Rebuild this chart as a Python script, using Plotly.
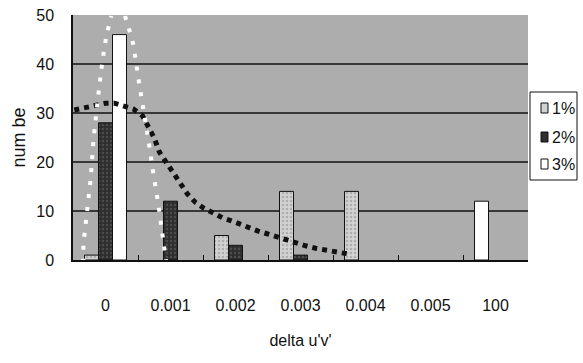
import plotly.graph_objects as go

# ---------------- data ----------------
categories = ["0", "0.001", "0.002", "0.003", "0.004", "0.005", "100"]
series_names = ["1%", "2%", "3%"]
vals_1 = [1, None, 5, 14, 14, None, None]
vals_2 = [28, 12, 3, 1, None, None, None]
vals_3 = [46, None, None, None, None, None, 12]
y_ticks = [0, 10, 20, 30, 40, 50]

# dotted trend curve (x in category-index units)
trend_x = [-0.48, -0.29, -0.15, 0.0, 0.14, 0.29, 0.43, 0.57, 0.66, 0.75, 0.83,
           0.94, 1.03, 1.14, 1.26, 1.38, 1.51, 1.66, 1.80, 1.94, 2.09, 2.23,
           2.35, 2.49, 2.65, 2.78, 2.94, 3.08, 3.23, 3.38, 3.52, 3.66, 3.78]
trend_y = [30.6, 31.2, 31.6, 32.0, 32.0, 31.4, 30.8, 29.4, 27.1, 24.9, 22.0,
           19.8, 17.8, 15.5, 13.5, 11.8, 10.6, 9.6, 8.6, 8.0, 7.1, 6.5,
           5.9, 5.3, 4.7, 4.1, 3.5, 2.9, 2.4, 2.0, 1.6, 1.4, 1.2]

# ---------------- style ----------------
FONT = "Liberation Sans, Arial, sans-serif"
FS = 16
W, H = 583, 363
L, R, T, B = 73, 528, 15, 260          # plot area in pixels
BG = "#adadad"
C1, C2, C3 = "#d2d2d2", "#2e2e2e", "#ffffff"


def px(x):
    return (x - L) / (R - L)


def py(y):
    return (B - y) / (B - T)


fig = go.Figure()

n = len(categories)
bw = 0.2154
off1 = -1.5 * bw
off2 = -0.5 * bw
off3 = [0.5 * bw] * (n - 1) + [-1.5 * bw]

fig.add_trace(go.Bar(x=categories, y=vals_1, name=series_names[0], width=bw, offset=off1,
                     marker=dict(color=C1, line=dict(color="#111", width=1),
                                 pattern=dict(shape=".", fgcolor="#8a8a8a", size=4, solidity=0.3)),
                     showlegend=False))
fig.add_trace(go.Bar(x=categories, y=vals_2, name=series_names[1], width=bw, offset=off2,
                     marker=dict(color=C2, line=dict(color="#111", width=1),
                                 pattern=dict(shape=".", fgcolor="#6a6a6a", size=4, solidity=0.3)),
                     showlegend=False))
fig.add_trace(go.Bar(x=categories, y=vals_3, name=series_names[2], width=bw, offset=off3,
                     marker=dict(color=C3, line=dict(color="#111", width=1)),
                     showlegend=False))

fig.add_trace(go.Scatter(x=trend_x, y=trend_y, xaxis="x2", mode="lines",
                         line=dict(color="#111", width=5, dash="5px,5px"),
                         showlegend=False, hoverinfo="skip"))

shapes = []
# horizontal gridlines
for v in y_ticks[1:-1]:
    shapes.append(dict(type="line", xref="paper", yref="y", x0=0, x1=1, y0=v, y1=v,
                       line=dict(color="#111", width=1.5), layer="below"))

# white dotted highlight around the first group
ell = [(0.30, 49.8), (0.354, 47.5), (0.43, 43.9), (0.51, 36.7), (0.585, 30.6),
       (0.66, 24.5), (0.74, 17.3), (0.815, 11.2), (0.877, 5.1), (0.94, -1.0),
       (-0.34, -1.0), (-0.34, 3.1), (-0.29, 9.2), (-0.23, 16.3), (-0.185, 24.5),
       (-0.12, 32.7), (-0.046, 40.8), (0.015, 45.9), (0.09, 49.8)]
path = "M " + " L ".join(f"{a},{b}" for a, b in ell)
shapes.append(dict(type="path", xref="x2", yref="y", path=path,
                   line=dict(color="white", width=4, dash="4px,9px"), layer="above"))

# manual legend
shapes.append(dict(type="rect", xref="paper", yref="paper",
                   x0=px(530), x1=px(577), y0=py(180), y1=py(92),
                   line=dict(color="#111", width=1), fillcolor="white"))
annotations = []
leg_y = [108, 137, 164]
leg_col = [C1, C2, C3]
for name, yc, col in zip(series_names, leg_y, leg_col):
    shapes.append(dict(type="rect", xref="paper", yref="paper",
                       x0=px(541), x1=px(548), y0=py(yc + 5), y1=py(yc - 5),
                       line=dict(color="#111", width=1), fillcolor=col))
    annotations.append(dict(xref="paper", yref="paper", x=px(550), y=py(yc),
                            text=name, showarrow=False, xanchor="left", yanchor="middle",
                            font=dict(family=FONT, size=FS, color="#111")))

fig.update_layout(
    width=W, height=H,
    margin=dict(l=L, r=W - R, t=T, b=H - B, autoexpand=False),
    paper_bgcolor="white", plot_bgcolor=BG,
    barmode="overlay",
    font=dict(family=FONT, size=FS, color="#111"),
    xaxis=dict(type="category", categoryorder="array", categoryarray=categories,
               range=[-0.5, n - 0.5], showgrid=False, zeroline=False,
               showline=True, linecolor="#111", linewidth=1.5,
               ticks="inside", ticklen=5, tickcolor="#111", tickson="boundaries",
               ticklabelstandoff=30,
               title=dict(text="delta u'v'", font=dict(size=FS), standoff=22)),
    xaxis2=dict(overlaying="x", range=[-0.5, n - 0.5], visible=False),
    yaxis=dict(range=[0, 50], tickvals=y_ticks, showgrid=False, zeroline=False,
               showline=True, linecolor="#111", linewidth=1.5,
               ticks="", ticklabelstandoff=14,
               title=dict(text="num be", font=dict(size=18), standoff=6)),
    shapes=shapes, annotations=annotations,
)

fig.write_html("out.html")
